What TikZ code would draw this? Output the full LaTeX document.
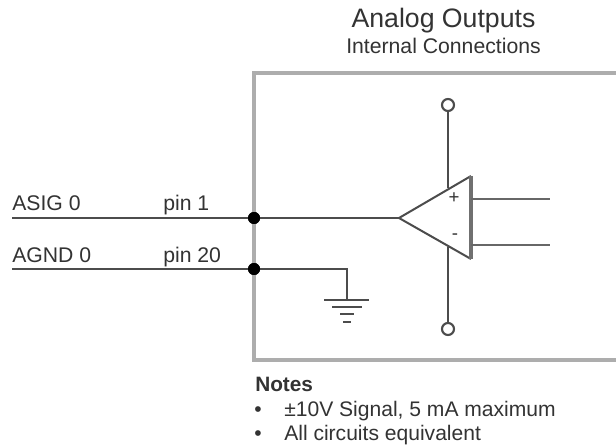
\documentclass[tikz,border=0pt]{standalone}
\usepackage{fontspec}
\setmainfont{Liberation Sans}
\definecolor{wire}{gray}{0.3}
\definecolor{frameg}{gray}{0.68}
\definecolor{txt}{gray}{0.2}
\tikzset{
  wireline/.style={draw=wire,line width=1.5pt},
  boxline/.style={draw=frameg,line width=2.6pt},
  dotj/.style={circle,fill=black,inner sep=0pt,minimum size=9pt},
  openc/.style={circle,draw=wire,line width=1.6pt,fill=white,inner sep=0pt,minimum size=9pt},
  lab/.style={anchor=base west,text=txt,font=\fontsize{15.9}{18}\selectfont,inner sep=0pt},
  note/.style={anchor=base west,text=txt,font=\fontsize{15.8}{18}\selectfont,inner sep=0pt},
  sign/.style={text=txt,font=\fontsize{14}{16}\selectfont,inner sep=0pt},
  gnd/.style={draw=wire,line width=1.3pt}
}
\begin{document}
\begin{tikzpicture}[x=0.75pt,y=-0.75pt]
\useasboundingbox (0,0) rectangle (616,448);
\fill[white] (0,0) rectangle (616,448);
\coordinate (bTR) at (616,73);
\coordinate (bTL) at (254,73);
\coordinate (bBL) at (254,360);
\coordinate (bBR) at (616,360);
\draw[boxline] (bTR) -- (bTL) -- (bBL) -- (bBR);
% wires
\coordinate (a0) at (12,218);
\coordinate (g0) at (12,269);
\coordinate (apex) at (399,218);
\coordinate (top) at (471,176);
\coordinate (bot) at (471,259);
\coordinate (gc) at (347,269);
\coordinate (gt) at (347,300);
\node[dotj] (ja) at (254,218) {};
\node[dotj] (jg) at (254,269) {};
\draw[wireline] (a0) -- (ja) -- (apex);
\draw[wireline] (g0) -- (jg) -- (gc) -- (gt);
\node[dotj] at (ja) {};
\node[dotj] at (jg) {};
% ground
\coordinate (g1l) at (324,300); \coordinate (g1r) at (369,300);
\coordinate (g2l) at (332,307); \coordinate (g2r) at (362,307);
\coordinate (g3l) at (340,314); \coordinate (g3r) at (354,314);
\coordinate (g4l) at (343,322); \coordinate (g4r) at (351,322);
\draw[gnd] (g1l) -- (g1r);
\draw[gnd] (g2l) -- (g2r);
\draw[gnd] (g3l) -- (g3r);
\draw[gnd] (g4l) -- (g4r);
% op amp
\node[openc] (ct) at (448,105) {};
\node[openc] (cb) at (448,329) {};
\coordinate (vt) at (448,188);
\coordinate (vb) at (448,247);
\draw[wireline] (ct) -- (vt);
\draw[wireline] (cb) -- (vb);
\draw[wireline,line join=miter] (top) -- (apex) -- (bot);
\draw[draw=wire!80,line width=2.4pt] (top) -- (bot);
\coordinate (o1a) at (471,199); \coordinate (o1b) at (550,199);
\coordinate (o2a) at (471,245); \coordinate (o2b) at (550,245);
\draw[draw=wire!85,line width=1.7pt] (o1a) -- (o1b);
\draw[draw=wire!85,line width=1.7pt] (o2a) -- (o2b);
\node[sign] (plus) at (454,198) {+};
\node[sign] (minus) at (455,237) {-};
% text
\node[text=txt,font=\fontsize{20}{22}\selectfont,inner sep=0pt,anchor=base] (t1) at (443.5,28) {Analog Outputs};
\node[text=txt,font=\fontsize{15.9}{18}\selectfont,inner sep=0pt,anchor=base] (t2) at (443.5,54) {Internal Connections};
\node[lab] (l1) at (12,211) {ASIG 0};
\node[lab] (l2) at (12,263) {AGND 0};
\node[lab] (l3) at (163,211) {pin 1};
\node[lab] (l4) at (163,263) {pin 20};
\node[note,font=\bfseries\fontsize{15.6}{18}\selectfont] (n0) at (255,391) {Notes};
\node[note] (n1) at (254,416) {•};
\node[note] (n1t) at (284,416) {±10V Signal, 5 mA maximum};
\node[note] (n2) at (254,440) {•};
\node[note] (n2t) at (284,440) {All circuits equivalent};
\end{tikzpicture}
\end{document}
